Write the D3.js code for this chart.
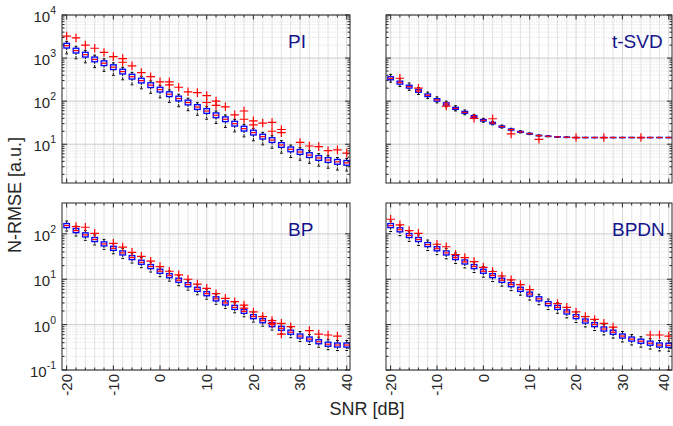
<!DOCTYPE html>
<html>
<head>
<meta charset="utf-8">
<script src="https://cdn.jsdelivr.net/npm/d3@7"></script>
<style>
  body { margin: 0; background: #fff; }
  svg { display: block; font-family: "Liberation Sans", Arial, sans-serif; }
</style>
</head>
<body>
<div id="chart"></div>
<script>
const width = 673;
const height = 426;

// SNR categories [dB]
const snr = [-20, -18, -16, -14, -12, -10, -8, -6, -4, -2, 0, 2, 4, 6, 8, 10,
  12, 14, 16, 18, 20, 22, 24, 26, 28, 30, 32, 34, 36, 38, 40];
const xTicks = [-20, -10, 0, 10, 20, 30, 40];

// medians
const piMed = [1940, 1490, 1200, 930, 760, 615, 485, 370, 300, 235, 185, 145, 115,
  93, 73, 59, 47, 38, 30, 23, 18.6, 15, 12.5, 9.6, 7.6, 6.6, 5.6, 4.8, 4.3, 3.9, 3.7];
const tsvdMed = [340, 269, 217, 172, 137, 107, 86, 68, 55, 44, 36, 31, 25.7, 21.9,
  19.4, 17.5, 15.9, 15.3, 14.8, 14.5, 14.3, 14.3, 14.3, 14.3, 14.3, 14.3, 14.3,
  14.3, 14.3, 14.3, 14.3];
const bpMed = [152, 118, 95, 75, 60, 48, 38, 30, 23.7, 19, 15, 12, 9.5, 7.6, 6.0,
  4.8, 3.7, 3.0, 2.4, 1.96, 1.5, 1.22, 1.0, 0.83, 0.68, 0.56, 0.48, 0.42, 0.37,
  0.355, 0.355];
const bpdnMed = [152, 123, 92, 75, 58, 47, 38, 30, 24, 19, 15, 12, 9.5, 7.6, 6.0,
  4.7, 3.7, 2.9, 2.4, 1.9, 1.5, 1.2, 1.0, 0.8, 0.68, 0.56, 0.48, 0.43, 0.39,
  0.355, 0.35];

// box half-height and whisker reach, in decades
const piSpread = { box: 0.055, lo: 0.19, hi: 0.1 };
const bpSpread = { box: 0.045, lo: 0.12, hi: 0.1 };
const bpdnSpread = { box: 0.045, lo: 0.13, hi: 0.1 };
const tsvdBox = [0.035, 0.035, 0.033, 0.03, 0.03, 0.028, 0.026, 0.024, 0.022, 0.02,
  0.018, 0.016, 0.014, 0.012, 0.01, 0.008, 0.006, 0.005, 0.004, 0.004, 0.003,
  0.003, 0.003, 0.003, 0.003, 0.003, 0.003, 0.003, 0.003, 0.003, 0.003];
const tsvdWhisk = [0.09, 0.09, 0.085, 0.08, 0.075, 0.07, 0.065, 0.06, 0.055, 0.05,
  0.045, 0.04, 0.035, 0.03, 0.025, 0.02, 0.015, 0.012, 0.01, 0.008, 0.006, 0.005,
  0.005, 0.005, 0.005, 0.005, 0.005, 0.005, 0.005, 0.005, 0.005];

// outliers [snr, value]
const piOut = [[-20, 3250], [-18, 2930], [-16, 2000], [-14, 1690], [-12, 1350],
  [-10, 1080], [-8, 970], [-8, 800], [-6, 660], [-4, 460], [-2, 370], [0, 280],
  [2, 280], [2, 240], [4, 210], [6, 165], [8, 158], [10, 135], [10, 93], [12, 100],
  [12, 80], [14, 74], [16, 48], [18, 59], [18, 38], [20, 35], [20, 28], [22, 31],
  [24, 32], [24, 20], [26, 22], [26, 18.6], [30, 11], [32, 9.1], [34, 8.8],
  [36, 7.1], [38, 7.4], [40, 6.2]];
const tsvdOut = [[-18, 340], [-14, 200], [-8, 77], [-2, 40], [2, 39], [6, 17.4],
  [12, 13], [20, 14.3], [26, 14.3], [34, 14.3]];
const bpOut = [[-18, 145], [-16, 140], [-14, 103], [-10, 62], [-8, 51], [-6, 39],
  [-4, 32], [-2, 25], [0, 19], [2, 15], [4, 12.5], [6, 10], [8, 7.8], [10, 6.3],
  [12, 4.8], [14, 3.8], [16, 3.2], [18, 2.7], [18, 2.3], [20, 1.9], [22, 1.5],
  [24, 1.23], [24, 1.07], [26, 1.07], [26, 0.62], [28, 0.9], [32, 0.74],
  [34, 0.62], [36, 0.59], [38, 0.56]];
const bpdnOut = [[-20, 210], [-18, 158], [-16, 118], [-14, 103], [-10, 59], [-8, 52],
  [-6, 35], [-4, 30], [-2, 24.5], [0, 18.3], [2, 14.8], [4, 11.8], [6, 9.7],
  [8, 7.6], [10, 5.9], [16, 2.9], [18, 2.4], [20, 1.9], [22, 1.5], [24, 1.3],
  [26, 1.07], [28, 0.88], [36, 0.59], [38, 0.59], [40, 0.56]];

const panels = [
  { title: "PI", med: piMed, box: piSpread.box, lo: piSpread.lo, hi: piSpread.hi, out: piOut, row: 0, col: 0 },
  { title: "t-SVD", med: tsvdMed, box: tsvdBox, lo: tsvdWhisk, hi: tsvdWhisk, out: tsvdOut, row: 0, col: 1 },
  { title: "BP", med: bpMed, box: bpSpread.box, lo: bpSpread.lo, hi: bpSpread.hi, out: bpOut, row: 1, col: 0 },
  { title: "BPDN", med: bpdnMed, box: bpdnSpread.box, lo: bpdnSpread.lo, hi: bpdnSpread.hi, out: bpdnOut, row: 1, col: 1 },
];

const colX = [[62, 350], [386, 672]];
const rowY = [[15, 183], [203, 370]];
const rowDomain = [[Math.pow(10, 0.1), 1e4], [0.1, Math.pow(10, 2.68)]];
const rowDecades = [[1, 2, 3, 4], [-1, 0, 1, 2]];

const at = (v, i) => (Array.isArray(v) ? v[i] : v);

const svg = d3.select("#chart").append("svg")
  .attr("width", width).attr("height", height)
  .attr("viewBox", `0 0 ${width} ${height}`);

panels.forEach((p, pi) => {
  const [x0, x1] = colX[p.col];
  const [y0, y1] = rowY[p.row];
  const x = d3.scaleLinear().domain([-21, 40.7]).range([x0, x1]);
  const y = d3.scaleLog().domain(rowDomain[p.row]).range([y1, y0]);

  const g = svg.append("g");
  const clipId = `clip-${pi}`;
  svg.append("clipPath").attr("id", clipId)
    .append("rect").attr("x", x0).attr("y", y0).attr("width", x1 - x0).attr("height", y1 - y0);

  // grid
  const grid = g.append("g");
  const minorY = [];
  rowDecades[p.row].forEach((d) => {
    for (let k = 2; k <= 9; k++) minorY.push(k * Math.pow(10, d - 1));
  });
  const [dLo, dHi] = rowDomain[p.row];
  grid.selectAll(".ymin").data(minorY.filter((v) => v > dLo && v < dHi)).join("line")
    .attr("x1", x0).attr("x2", x1)
    .attr("y1", (d) => y(d)).attr("y2", (d) => y(d))
    .attr("stroke", "#e2e2e2").attr("stroke-width", 0.8).attr("stroke-dasharray", "1.5,1");
  grid.selectAll(".xg").data(snr).join("line")
    .attr("x1", (d) => x(d)).attr("x2", (d) => x(d))
    .attr("y1", y0).attr("y2", y1)
    .attr("stroke", (d) => (d % 10 === 0 ? "#d6d6d6" : "#e2e2e2")).attr("stroke-width", 1);
  grid.selectAll(".ymaj").data(rowDecades[p.row].map((d) => Math.pow(10, d)).filter((v) => v >= dLo && v <= dHi)).join("line")
    .attr("x1", x0).attr("x2", x1)
    .attr("y1", (d) => y(d)).attr("y2", (d) => y(d))
    .attr("stroke", "#cccccc").attr("stroke-width", 1);

  // boxes
  const marks = g.append("g").attr("clip-path", `url(#${clipId})`);
  const bw = 5.6;
  p.med.forEach((m, i) => {
    const cx = x(snr[i]);
    const q1 = m * Math.pow(10, -at(p.box, i));
    const q3 = m * Math.pow(10, at(p.box, i));
    const wl = m * Math.pow(10, -at(p.lo, i));
    const wh = m * Math.pow(10, at(p.hi, i));
    marks.append("line").attr("x1", cx).attr("x2", cx).attr("y1", y(q1)).attr("y2", y(wl))
      .attr("stroke", "#000").attr("stroke-width", 1).attr("stroke-dasharray", "2,1.2");
    marks.append("line").attr("x1", cx).attr("x2", cx).attr("y1", y(q3)).attr("y2", y(wh))
      .attr("stroke", "#000").attr("stroke-width", 1).attr("stroke-dasharray", "2,1.2");
    marks.append("line").attr("x1", cx - 1.4).attr("x2", cx + 1.4).attr("y1", y(wl)).attr("y2", y(wl))
      .attr("stroke", "#000").attr("stroke-width", 1);
    marks.append("line").attr("x1", cx - 1.4).attr("x2", cx + 1.4).attr("y1", y(wh)).attr("y2", y(wh))
      .attr("stroke", "#000").attr("stroke-width", 1);
    marks.append("rect").attr("x", cx - bw / 2).attr("width", bw)
      .attr("y", y(q3)).attr("height", Math.max(0.01, y(q1) - y(q3)))
      .attr("fill", "none").attr("stroke", "#0000ff").attr("stroke-width", 1.3);
    marks.append("line").attr("x1", cx - bw / 2).attr("x2", cx + bw / 2).attr("y1", y(m)).attr("y2", y(m))
      .attr("stroke", "#ff0000").attr("stroke-width", 1.2);
  });

  marks.selectAll(".out").data(p.out).join("path")
    .attr("d", (d) => `M${x(d[0]) - 4.3},${y(d[1])}h8.6M${x(d[0])},${y(d[1]) - 4.3}v8.6`)
    .attr("stroke", "#ff0000").attr("stroke-width", 1.2).attr("fill", "none");

  // axes box and ticks
  const ax = g.append("g").attr("stroke", "#262626").attr("stroke-width", 1);
  ax.append("rect").attr("x", x0).attr("y", y0).attr("width", x1 - x0).attr("height", y1 - y0).attr("fill", "none");
  snr.forEach((s) => {
    const len = s % 10 === 0 ? 4.5 : 2.5;
    ax.append("line").attr("x1", x(s)).attr("x2", x(s)).attr("y1", y1).attr("y2", y1 - len);
    ax.append("line").attr("x1", x(s)).attr("x2", x(s)).attr("y1", y0).attr("y2", y0 + len);
  });
  minorY.filter((v) => v > dLo && v < dHi).forEach((v) => {
    ax.append("line").attr("x1", x0).attr("x2", x0 + 2.5).attr("y1", y(v)).attr("y2", y(v));
    ax.append("line").attr("x1", x1).attr("x2", x1 - 2.5).attr("y1", y(v)).attr("y2", y(v));
  });
  rowDecades[p.row].map((d) => Math.pow(10, d)).filter((v) => v >= dLo && v <= dHi).forEach((v) => {
    ax.append("line").attr("x1", x0).attr("x2", x0 + 5).attr("y1", y(v)).attr("y2", y(v));
    ax.append("line").attr("x1", x1).attr("x2", x1 - 5).attr("y1", y(v)).attr("y2", y(v));
  });

  // y tick labels on left column only
  if (p.col === 0) {
    rowDecades[p.row].forEach((d) => {
      const t = g.append("text")
        .attr("x", x0 - 6).attr("y", y(Math.pow(10, d)) + 7)
        .attr("text-anchor", "end").attr("font-size", 15).attr("fill", "#262626");
      t.append("tspan").text("10");
      t.append("tspan").attr("font-size", 10.5).attr("dy", -8).text(d);
    });
  }

  // x tick labels on bottom row only
  if (p.row === 1) {
    xTicks.forEach((s) => {
      g.append("text")
        .attr("transform", `translate(${Math.min(x(s), 664)},${y1 + 4}) rotate(-90)`)
        .attr("text-anchor", "end").attr("dy", "0.36em")
        .attr("font-size", 15).attr("fill", "#262626")
        .text(s);
    });
  }

  g.append("text")
    .attr("x", x0 + 226).attr("y", y0 + 33)
    .attr("font-size", 19).attr("fill", "#14148c")
    .text(p.title);
});

svg.append("text")
  .attr("transform", "translate(21,195) rotate(-90)")
  .attr("text-anchor", "middle").attr("font-size", 18).attr("fill", "#262626")
  .text("N-RMSE [a.u.]");

svg.append("text")
  .attr("x", 367).attr("y", 415)
  .attr("text-anchor", "middle").attr("font-size", 18).attr("fill", "#262626")
  .text("SNR [dB]");
</script>
</body>
</html>
